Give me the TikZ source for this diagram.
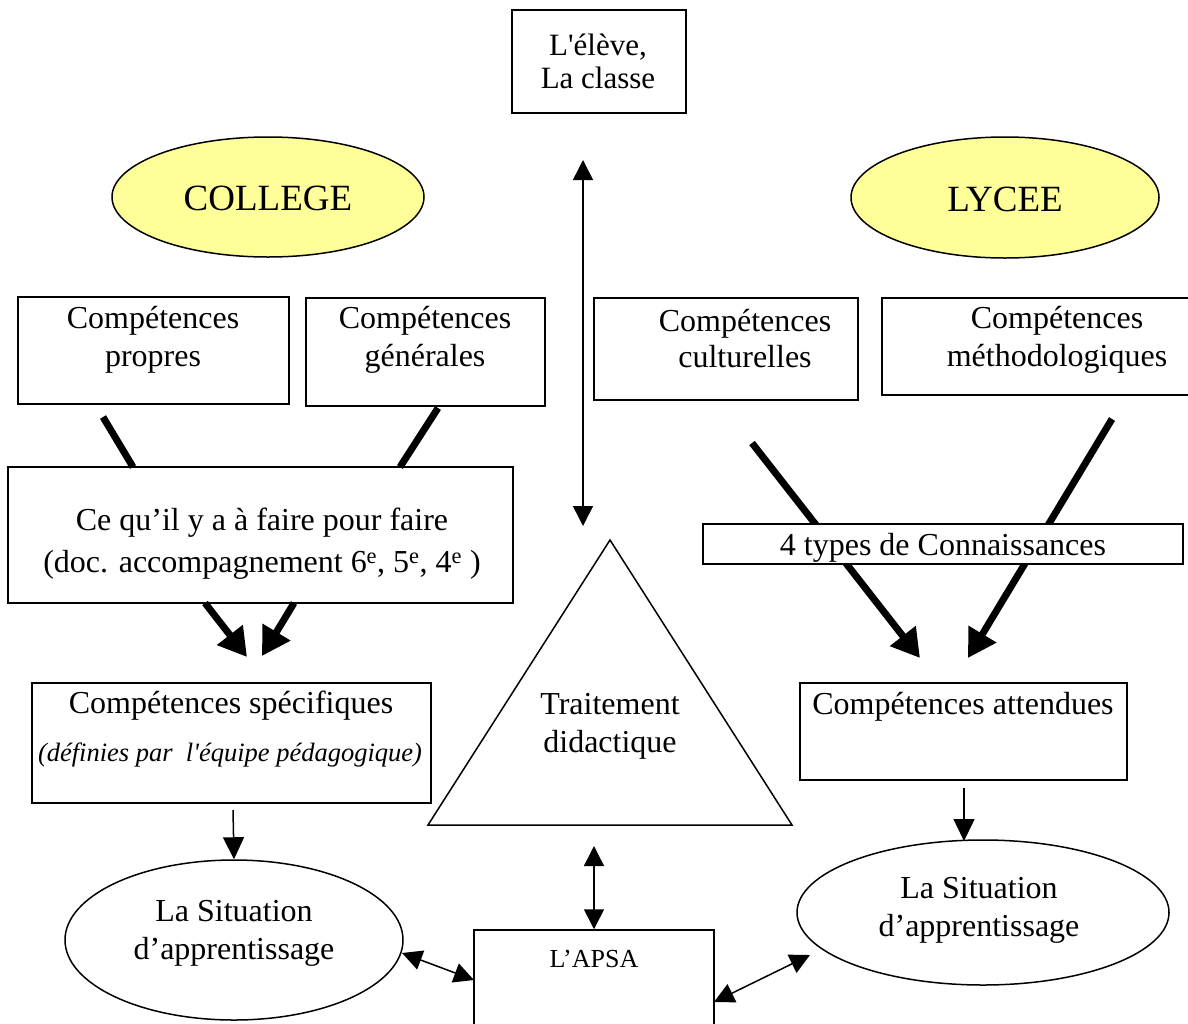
\documentclass[tikz,border=0pt]{standalone}
\usepackage{fontspec}
\setmainfont{Liberation Serif}[Ligatures=TeXOff]
\usetikzlibrary{arrows.meta,shapes.geometric}
\definecolor{ellyellow}{HTML}{FFFF99}
\begin{document}
\begin{tikzpicture}[x=1pt,y=-1pt,
  box/.style={draw,line width=1.5pt,inner sep=0pt,fill=white},
  ell/.style={draw,ellipse,line width=1.5pt,inner sep=0pt},
  txt/.style={align=center,font=\fontsize{32}{38}\selectfont,inner sep=0pt},
  heavyline/.style={line width=7pt},
  bigarrow/.style={line width=7pt,-{Triangle[length=28pt,width=31pt]}},
  dbl/.style={line width=1.5pt,{Triangle[length=20pt,width=20pt]}-{Triangle[length=20pt,width=20pt]}},
  thinarrow/.style={line width=1.5pt,-{Triangle[length=22pt,width=21pt]}},
]
\useasboundingbox (0,0) rectangle (1188,1023);

% top box
\node[box,minimum width=174pt,minimum height=103pt] (eleve) at (599,61.5) {};
\node[txt,font=\fontsize{31}{33}\selectfont] (televe) at (598,61) {L'élève,\\La classe};

% ellipses
\node[ell,fill=ellyellow,minimum width=312pt,minimum height=120pt] (college) at (268,197) {};
\node[txt,font=\fontsize{37}{40}\selectfont] (tcollege) at (268,198) {COLLEGE};
\node[ell,fill=ellyellow,minimum width=308pt,minimum height=121pt] (lycee) at (1005,197.5) {};
\node[txt,font=\fontsize{37}{40}\selectfont] (tlycee) at (1005,199) {LYCEE};

% vertical double arrow
\coordinate (vtop) at (583,160);
\coordinate (vbot) at (583,526);
\draw[dbl] (vtop) -- (vbot);

% competence boxes
\node[box,minimum width=271pt,minimum height=107pt] (propres) at (153.5,350.5) {};
\node[txt] (tpropres) at (153,340) {Compétences\\propres};
\node[box,minimum width=239pt,minimum height=108pt] (generales) at (425.5,352) {};
\node[txt] (tgenerales) at (425,340) {Compétences\\générales};
\node[box,minimum width=264pt,minimum height=102pt] (culturelles) at (726,349) {};
\node[txt,font=\fontsize{32}{36}\selectfont] (tculturelles) at (745,339) {Compétences\\culturelles};
\node[box,minimum width=318pt,minimum height=97pt] (methodo) at (1041,346.5) {};
\node[txt] (tmethodo) at (1057,340) {Compétences\\méthodologiques};

% left heavy lines
\coordinate (l1a) at (103,417);
\coordinate (l2a) at (438,408);
\node[box,minimum width=505pt,minimum height=136pt] (cequil) at (260.5,535) {};
\draw[heavyline] (l1a) -- (133,467);
\draw[heavyline] (l2a) -- (400,467);
\node[txt,font=\fontsize{32}{42}\selectfont] (tcequil) at (262,544) {Ce qu’il y a à faire pour faire\\(doc. accompagnement 6\textsuperscript{e}, 5\textsuperscript{e}, 4\textsuperscript{e} )};

% left big arrows
\coordinate (a1s) at (205,603);
\coordinate (a1e) at (247,657);
\coordinate (a2s) at (294,603);
\coordinate (a2e) at (262,656);
\draw[bigarrow] (a1s) -- (a1e);
\draw[bigarrow] (a2s) -- (a2e);

% competences specifiques
\node[box,minimum width=399pt,minimum height=120pt] (specif) at (231.5,743) {};
\node[txt] (tspecif) at (231,706) {Compétences spécifiques};
\node[txt,font=\fontsize{26.5}{30}\selectfont\itshape] (tdefin) at (230,755) {(définies par \ l'équipe pédagogique)};

% right big arrows behind box
\coordinate (r1s) at (752,443);
\coordinate (r1e) at (920,658);
\coordinate (r2s) at (1112,419);
\coordinate (r2e) at (968,658);
\draw[bigarrow] (r1s) -- (r1e);
\draw[bigarrow] (r2s) -- (r2e);
\node[box,minimum width=480pt,minimum height=40pt] (types) at (943,544) {};
\node[txt] (ttypes) at (943,548) {4 types de Connaissances};

% competences attendues
\node[box,minimum width=327pt,minimum height=97pt] (attendues) at (963.5,731.5) {};
\node[txt] (tattendues) at (963,707) {Compétences attendues};

% triangle
\coordinate (tapex) at (610,540);
\coordinate (tleft) at (428,825);
\coordinate (tright) at (792,825);
\draw[line width=1.5pt] (tapex) -- (tleft) -- (tright) -- cycle;
\node[txt] (ttraite) at (610,726) {Traitement\\didactique};

% situations
\node[ell,minimum width=338pt,minimum height=160pt] (sitL) at (234,940) {};
\node[txt] (tsitL) at (234,933) {La Situation\\d’apprentissage};
\node[ell,minimum width=372pt,minimum height=145pt] (sitR) at (983,912.5) {};
\node[txt] (tsitR) at (979,910) {La Situation\\d’apprentissage};

\draw[thinarrow] (233,810) -- (sitL.north);
\draw[thinarrow] (964,788) -- (964,841);

% APSA
\node[box,minimum width=240pt,minimum height=120pt] (apsa) at (594,990) {};
\node[txt,font=\fontsize{26}{30}\selectfont] (tapsa) at (594,959) {L’APSA};

\coordinate (apsatop) at (594,846);
\draw[dbl] (apsatop) -- (apsa.north -| apsatop);
\draw[dbl] (402,953) -- (474,980);
\draw[dbl] (714,1002) -- (810,955);
\end{tikzpicture}
\end{document}
